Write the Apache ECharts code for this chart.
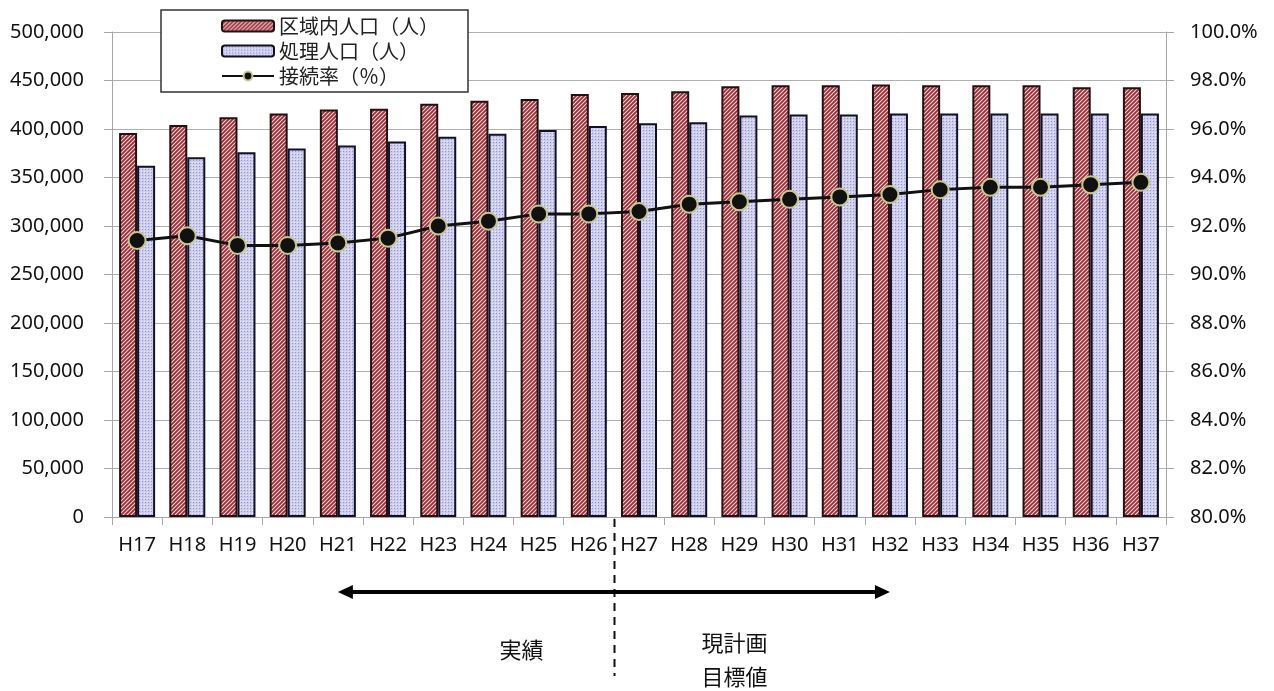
<!DOCTYPE html>
<html lang="ja">
<head>
<meta charset="utf-8">
<title>区域内人口・処理人口・接続率</title>
<script src="https://cdn.jsdelivr.net/npm/echarts@6/dist/echarts.min.js"></script>
<style>
  html, body { margin: 0; padding: 0; background: #fff; }
  #chart { width: 1274px; height: 691px; }
</style>
</head>
<body>
<div id="chart"></div>
<script>
// 年度
const categories = ['H17', 'H18', 'H19', 'H20', 'H21', 'H22', 'H23', 'H24', 'H25', 'H26',
  'H27', 'H28', 'H29', 'H30', 'H31', 'H32', 'H33', 'H34', 'H35', 'H36', 'H37'];

// 区域内人口（人）
const areaPopulation = [396000, 404000, 412000, 416000, 420000, 421000, 426000, 429000, 431000, 436000,
  437000, 439000, 444000, 445000, 445000, 446000, 445000, 445000, 445000, 443000, 443000];

// 処理人口（人）
const servedPopulation = [362000, 371000, 376000, 380000, 383000, 387000, 392000, 395000, 399000, 403000,
  406000, 407000, 414000, 415000, 415000, 416000, 416000, 416000, 416000, 416000, 416000];

// 接続率（％）
const connectionRate = [91.4, 91.6, 91.2, 91.2, 91.3, 91.5, 92.0, 92.2, 92.5, 92.5,
  92.6, 92.9, 93.0, 93.1, 93.2, 93.3, 93.5, 93.6, 93.6, 93.7, 93.8];

// 目盛り
const leftTicks = { min: 0, max: 500000, interval: 50000 };
const rightTicks = { min: 80, max: 100, interval: 2 };

// 実績と計画の区切り・矢印の範囲
const splitAfter = 'H26';
const splitBefore = 'H27';
const arrowFrom = 'H21';
const arrowTo = 'H32';

// 斜線ハッチ
function stripePattern() {
  const s = 4;
  const c = document.createElement('canvas');
  c.width = s; c.height = s;
  const g = c.getContext('2d');
  g.fillStyle = '#f4d9d9';
  g.fillRect(0, 0, s, s);
  g.strokeStyle = '#9a2f38';
  g.lineWidth = 1.8;
  g.beginPath();
  g.moveTo(-1, 1); g.lineTo(1, -1);
  g.moveTo(0, s); g.lineTo(s, 0);
  g.moveTo(s - 1, s + 1); g.lineTo(s + 1, s - 1);
  g.stroke();
  return c;
}

// 細かい網点
function dotPattern() {
  const s = 3;
  const c = document.createElement('canvas');
  c.width = s; c.height = s;
  const g = c.getContext('2d');
  g.fillStyle = '#cdcdf0';
  g.fillRect(0, 0, s, s);
  g.fillStyle = '#9494d2';
  g.fillRect(1, 1, 1, 1);
  g.fillStyle = '#ececfb';
  g.fillRect(0, 0, 1, 1);
  return c;
}

const labelFont = 'Noto Sans';
const jpFont = 'Noto Sans CJK JP';

const chart = echarts.init(document.getElementById('chart'));

chart.setOption({
  animation: false,
  backgroundColor: '#fff',
  grid: { left: 112, right: 108, top: 32, bottom: 174, containLabel: false },
  legend: {
    orient: 'vertical',
    left: 161,
    top: 10,
    padding: [6, 29, 6, 60],
    itemWidth: 52,
    itemHeight: 11,
    itemGap: 5,
    backgroundColor: '#fff',
    borderColor: '#333',
    borderWidth: 1.5,
    textStyle: { fontFamily: jpFont, fontSize: 20, color: '#222' },
    data: ['区域内人口（人）', '処理人口（人）', '接続率（％）']
  },
  xAxis: {
    type: 'category',
    data: categories,
    axisLine: { lineStyle: { color: '#a6a6a6', width: 1 } },
    axisTick: { show: true, length: 8, lineStyle: { color: '#a6a6a6' } },
    axisLabel: { fontFamily: labelFont, fontSize: 20, color: '#111', margin: 18 },
    splitLine: { show: false }
  },
  yAxis: [
    {
      type: 'value',
      min: leftTicks.min,
      max: leftTicks.max,
      interval: leftTicks.interval,
      axisLine: { show: true, lineStyle: { color: '#a6a6a6' } },
      axisTick: { show: true, length: 8, lineStyle: { color: '#a6a6a6' } },
      axisLabel: {
        fontFamily: labelFont, fontSize: 20, color: '#111', margin: 28,
        formatter: v => v.toLocaleString('en-US')
      },
      splitLine: { show: true, lineStyle: { color: '#b0b0b0', width: 1 } }
    },
    {
      type: 'value',
      min: rightTicks.min,
      max: rightTicks.max,
      interval: rightTicks.interval,
      position: 'right',
      axisLine: { show: true, lineStyle: { color: '#a6a6a6' } },
      axisTick: { show: true, length: 8, lineStyle: { color: '#a6a6a6' } },
      axisLabel: {
        fontFamily: labelFont, fontSize: 20, color: '#111', margin: 24,
        formatter: v => v.toFixed(1) + '%'
      },
      splitLine: { show: false }
    }
  ],
  series: [
    {
      name: '区域内人口（人）',
      type: 'bar',
      yAxisIndex: 0,
      data: areaPopulation,
      barWidth: 18,
      barGap: '0%',
      itemStyle: {
        color: { image: stripePattern(), repeat: 'repeat' },
        borderColor: '#241012',
        borderWidth: 2
      }
    },
    {
      name: '処理人口（人）',
      type: 'bar',
      yAxisIndex: 0,
      data: servedPopulation,
      barWidth: 18,
      barGap: '0%',
      itemStyle: {
        color: { image: dotPattern(), repeat: 'repeat' },
        borderColor: '#111126',
        borderWidth: 2
      }
    },
    {
      name: '接続率（％）',
      type: 'line',
      yAxisIndex: 1,
      data: connectionRate,
      symbol: 'circle',
      symbolSize: 17,
      lineStyle: { color: '#111', width: 3 },
      itemStyle: { color: '#111', borderColor: '#c8c88c', borderWidth: 2 },
      z: 5
    }
  ]
});

// 実績／計画の区切り線と期間矢印
function px(cat) {
  return chart.convertToPixel({ xAxisIndex: 0 }, cat);
}
const splitX = Math.round((px(splitAfter) + px(splitBefore)) / 2) + 0.5;
const ax1 = px(arrowFrom);
const ax2 = px(arrowTo);
const arrowY = 592;
const head = 15;
const halfH = 7;

chart.setOption({
  graphic: [
    {
      type: 'line',
      shape: { x1: splitX, y1: 519, x2: splitX, y2: 676 },
      style: { stroke: '#111', lineWidth: 2, lineDash: [8, 6] },
      z: 10
    },
    {
      type: 'line',
      shape: { x1: ax1 + head - 2, y1: arrowY, x2: ax2 - head + 2, y2: arrowY },
      style: { stroke: '#000', lineWidth: 4 },
      z: 10
    },
    {
      type: 'polygon',
      shape: { points: [[ax1, arrowY], [ax1 + head, arrowY - halfH], [ax1 + head, arrowY + halfH]] },
      style: { fill: '#000' },
      z: 10
    },
    {
      type: 'polygon',
      shape: { points: [[ax2, arrowY], [ax2 - head, arrowY - halfH], [ax2 - head, arrowY + halfH]] },
      style: { fill: '#000' },
      z: 10
    },
    {
      type: 'text',
      x: splitX - 93,
      y: 650,
      style: {
        text: '実績', fill: '#111', font: '22px "Noto Sans CJK JP"',
        align: 'center', verticalAlign: 'middle'
      },
      z: 10
    },
    {
      type: 'text',
      x: splitX + 120,
      y: 660,
      style: {
        text: '現計画\n目標値', fill: '#111', font: '22px "Noto Sans CJK JP"',
        align: 'center', verticalAlign: 'middle', lineHeight: 34
      },
      z: 10
    }
  ]
});
</script>
</body>
</html>
